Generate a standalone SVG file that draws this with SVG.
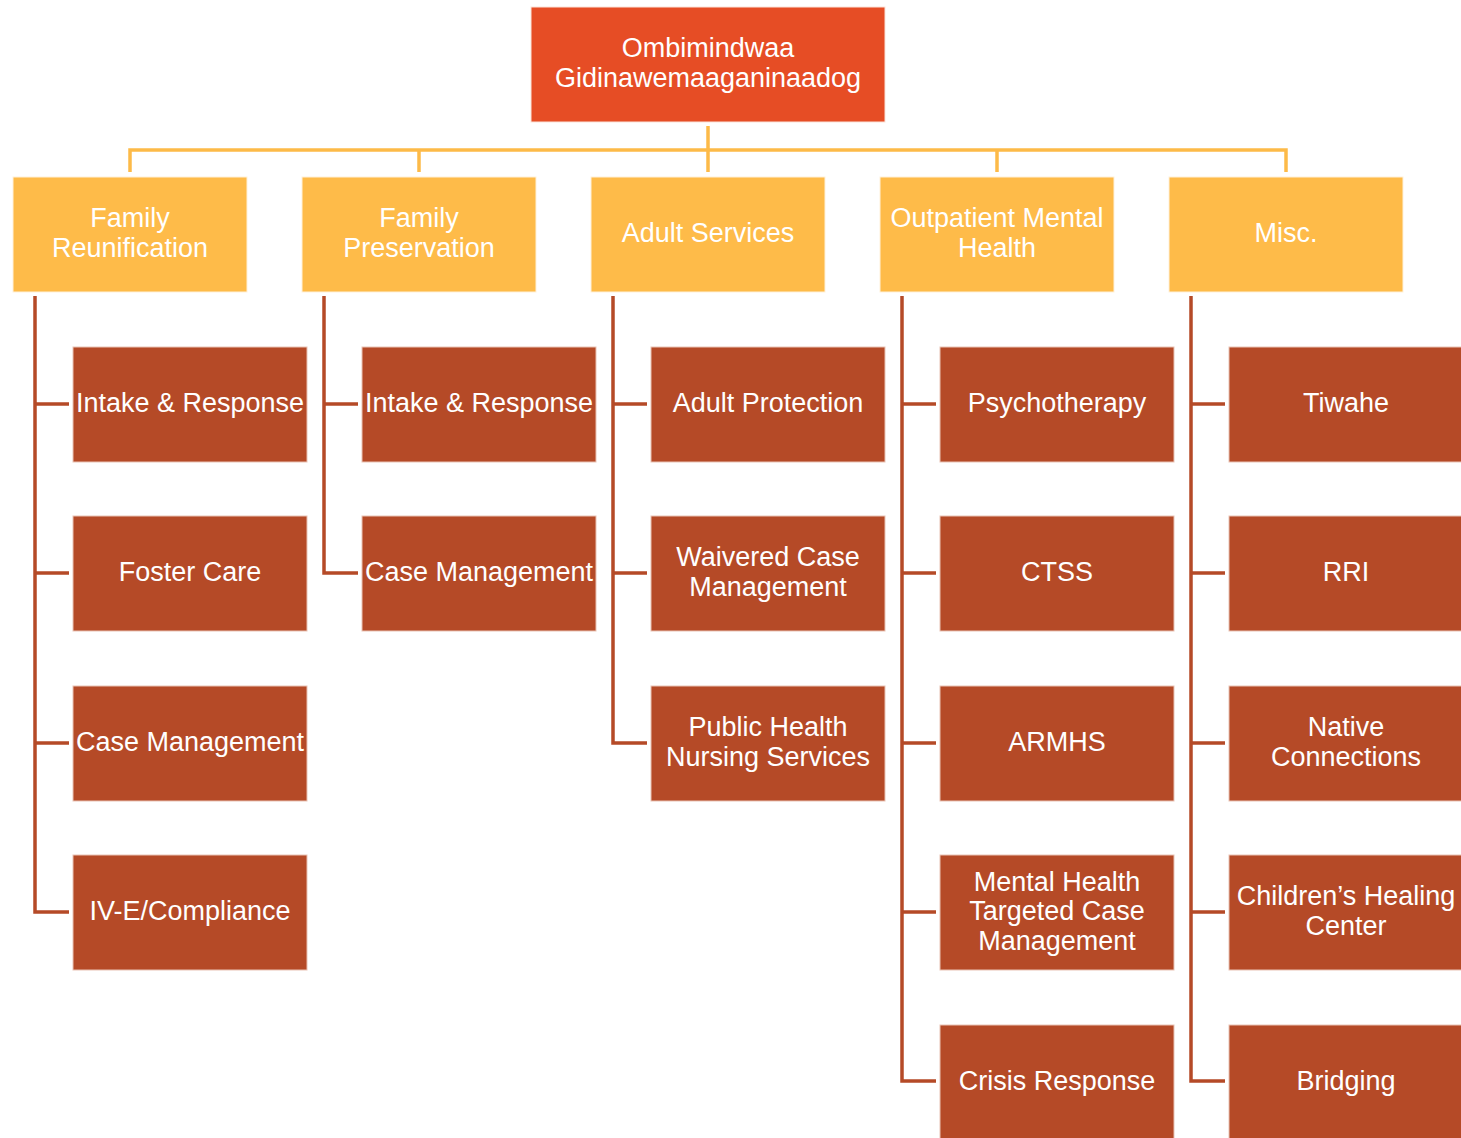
<svg xmlns="http://www.w3.org/2000/svg" width="1461" height="1138" viewBox="0 0 1461 1138">
<style>
.root{fill:#E64D25;stroke:#FBE3D9;stroke-width:1}
.l2{fill:#FEBB49;stroke:#FFF1DA;stroke-width:1}
.ch{fill:#B54A27;stroke:#E9C3B5;stroke-width:1}
text{font-family:"Liberation Sans",Arial,sans-serif;font-size:27px;fill:#FFFFFF;text-anchor:middle}
.yl{fill:none;stroke:#FDBA48;stroke-width:3.5}
.br{fill:none;stroke:#B54A27;stroke-width:3.5}
</style>
<rect width="1461" height="1138" fill="#FFFFFF"/>
<g id="connectors">
<path class="yl" d="M708,126 V172 M130,172 V150 H1286 V172 M419,150 V172 M997,150 V172"/>
<path class="br" d="M35,296 V912 H69 M35,404 H69 M35,573 H69 M35,743 H69"/>
<path class="br" d="M324,296 V573 H358 M324,404 H358"/>
<path class="br" d="M613,296 V743 H647 M613,404 H647 M613,573 H647"/>
<path class="br" d="M902,296 V1081 H936 M902,404 H936 M902,573 H936 M902,743 H936 M902,912 H936"/>
<path class="br" d="M1191,296 V1081 H1225 M1191,404 H1225 M1191,573 H1225 M1191,743 H1225 M1191,912 H1225"/>
</g>
<g id="root"><rect class="root" x="531" y="7" width="354" height="115"/><text x="708" y="57">Ombimindwaa</text><text x="708" y="87">Gidinawemaaganinaadog</text></g>
<g id="family-reunification"><rect class="l2" x="13" y="177" width="234" height="115"/><text x="130" y="227">Family</text><text x="130" y="257">Reunification</text></g>
<g id="family-preservation"><rect class="l2" x="302" y="177" width="234" height="115"/><text x="419" y="227">Family</text><text x="419" y="257">Preservation</text></g>
<g id="adult-services"><rect class="l2" x="591" y="177" width="234" height="115"/><text x="708" y="242">Adult Services</text></g>
<g id="outpatient-mental-health"><rect class="l2" x="880" y="177" width="234" height="115"/><text x="997" y="227">Outpatient Mental</text><text x="997" y="257">Health</text></g>
<g id="misc"><rect class="l2" x="1169" y="177" width="234" height="115"/><text x="1286" y="242">Misc.</text></g>

<g id="fr-intake"><rect class="ch" x="73" y="347" width="234" height="115"/><text x="190" y="412">Intake &amp; Response</text></g>
<g id="fr-foster"><rect class="ch" x="73" y="516" width="234" height="115"/><text x="190" y="581">Foster Care</text></g>
<g id="fr-case"><rect class="ch" x="73" y="686" width="234" height="115"/><text x="190" y="751">Case Management</text></g>
<g id="fr-ive"><rect class="ch" x="73" y="855" width="234" height="115"/><text x="190" y="920">IV-E/Compliance</text></g>

<g id="fp-intake"><rect class="ch" x="362" y="347" width="234" height="115"/><text x="479" y="412">Intake &amp; Response</text></g>
<g id="fp-case"><rect class="ch" x="362" y="516" width="234" height="115"/><text x="479" y="581">Case Management</text></g>

<g id="as-protection"><rect class="ch" x="651" y="347" width="234" height="115"/><text x="768" y="412">Adult Protection</text></g>
<g id="as-waivered"><rect class="ch" x="651" y="516" width="234" height="115"/><text x="768" y="566">Waivered Case</text><text x="768" y="596">Management</text></g>
<g id="as-public-health"><rect class="ch" x="651" y="686" width="234" height="115"/><text x="768" y="736">Public Health</text><text x="768" y="766">Nursing Services</text></g>

<g id="omh-psychotherapy"><rect class="ch" x="940" y="347" width="234" height="115"/><text x="1057" y="412">Psychotherapy</text></g>
<g id="omh-ctss"><rect class="ch" x="940" y="516" width="234" height="115"/><text x="1057" y="581">CTSS</text></g>
<g id="omh-armhs"><rect class="ch" x="940" y="686" width="234" height="115"/><text x="1057" y="751">ARMHS</text></g>
<g id="omh-mhtcm"><rect class="ch" x="940" y="855" width="234" height="115"/><text x="1057" y="891">Mental Health</text><text x="1057" y="920">Targeted Case</text><text x="1057" y="950">Management</text></g>
<g id="omh-crisis"><rect class="ch" x="940" y="1025" width="234" height="115"/><text x="1057" y="1090">Crisis Response</text></g>

<g id="misc-tiwahe"><rect class="ch" x="1229" y="347" width="234" height="115"/><text x="1346" y="412">Tiwahe</text></g>
<g id="misc-rri"><rect class="ch" x="1229" y="516" width="234" height="115"/><text x="1346" y="581">RRI</text></g>
<g id="misc-native"><rect class="ch" x="1229" y="686" width="234" height="115"/><text x="1346" y="736">Native</text><text x="1346" y="766">Connections</text></g>
<g id="misc-chc"><rect class="ch" x="1229" y="855" width="234" height="115"/><text x="1346" y="905">Children’s Healing</text><text x="1346" y="935">Center</text></g>
<g id="misc-bridging"><rect class="ch" x="1229" y="1025" width="234" height="115"/><text x="1346" y="1090">Bridging</text></g>
</svg>
